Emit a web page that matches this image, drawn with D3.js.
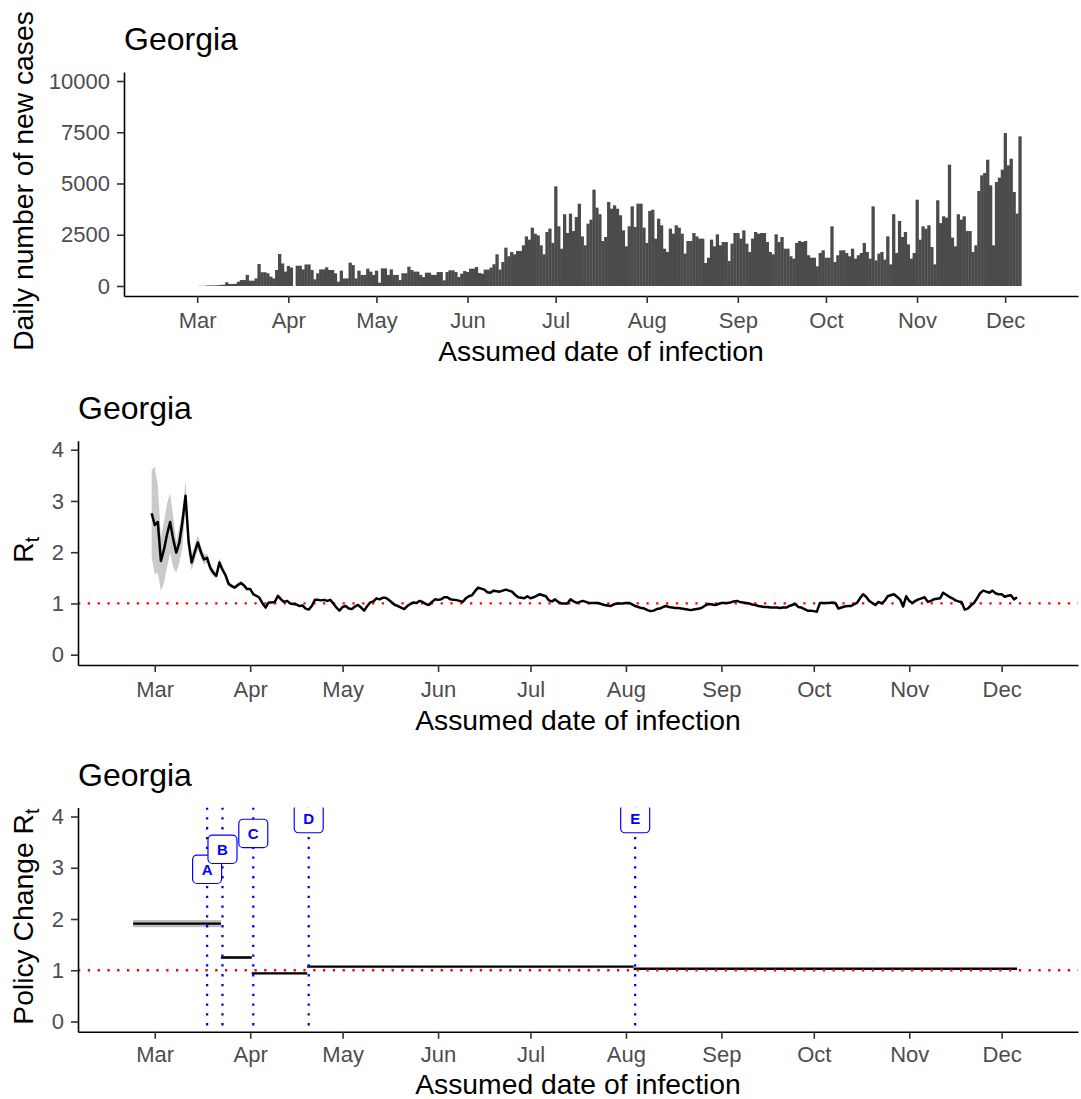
<!DOCTYPE html>
<html><head><meta charset="utf-8">
<script src="https://cdn.jsdelivr.net/npm/d3@7"></script>
<style>body{margin:0;background:#fff}svg{display:block}</style>
</head><body>
<svg id="c" width="1081" height="1099"></svg>
<script>
// ---------------- DATA ----------------
const stateName = "Georgia";
const monthTicks = ["2020-03-01","2020-04-01","2020-05-01","2020-06-01","2020-07-01","2020-08-01","2020-09-01","2020-10-01","2020-11-01","2020-12-01"];
const monthLabels = ["Mar","Apr","May","Jun","Jul","Aug","Sep","Oct","Nov","Dec"];
const caseTicks = [0, 2500, 5000, 7500, 10000];
const rtTicks = [0, 1, 2, 3, 4];

const casesStart = "2020-03-01";
const dailyCases = [
0,10,5,20,25,30,30,40,55,60,180,100,100,110,210,290,290,540,260,260,370,1070,670,670,620,455,370,780,1560,1100,
700,975,900,0,990,990,810,1050,1050,780,325,620,810,810,910,780,780,620,210,750,370,370,1140,1020,370,750,540,540,845,700,
540,750,160,860,860,540,810,540,540,290,620,620,940,780,700,700,540,430,650,650,540,540,
680,680,275,680,765,765,680,440,600,730,
680,845,845,925,635,600,800,800,895,1060,
1545,800,1170,1870,1450,1660,1545,1710,1710,1985,
2420,2260,2845,2550,2470,1985,1545,2630,2800,2100,
4860,2910,1820,3500,2585,3530,2680,3365,4015,2420,
1985,3040,3235,4700,3820,3500,2195,2390,4100,3770,
3935,3770,3450,2715,1935,2910,3885,2880,4015,4015,
2845,2100,3660,3720,2310,3285,2960,1820,1660,2800,
2550,2960,2845,2550,1580,2195,2195,2585,2420,2310,
2310,1120,1380,2260,1935,2520,1985,2145,2145,1220,
2065,2585,2585,2310,2715,2065,
1660,2310,2635,2550,2585,2585,2145,1660,1545,2520,
2145,2390,1820,1820,1450,1335,2100,2195,2145,2195,
1500,1380,1380,960,1610,1740,1380,1380,2910,1170,
1500,1740,1740,1610,1450,1820,1335,1500,1610,2100,
1660,1335,3885,1250,1580,1660,1285,2420,1055,3500,
1610,3170,2390,2635,2030,1335,1610,4210,2260,2910,
2795,2960,1900,1055,4180,3070,3400,3335,5920,2360,
1935,3500,3235,3400,2680,2680,1660,1985,4635,5400,
5510,6160,4910,1985,5070,5285,5675,7460,5885,6210,
4585,3530,7300
];

const rtStart = "2020-02-29";
const rtMedian = [
2.76,2.53,2.59,1.83,2.05,2.35,2.59,2.25,1.99,2.19,
2.60,3.10,2.20,1.80,2.00,2.19,2.00,1.86,1.89,1.70,
1.60,1.54,1.80,1.66,1.55,1.38,1.34,1.31,1.36,1.40,
1.35,1.28,1.28,1.18,1.15,1.11,1.00,0.92,1.02,1.02,
1.03,1.15,1.08,1.03,1.05,1.00,0.99,0.98,0.95,0.96,
0.90,0.88,0.95,1.07,1.07,1.06,1.07,1.05,1.07,1.00,
0.92,0.86,0.93,0.95,0.90,0.89,0.94,0.97,0.92,0.86,
0.95,1.02,1.04,1.10,1.08,1.11,1.11,1.07,1.02,0.97,
0.95,0.92,0.89,0.95,0.99,1.02,1.01,1.05,1.03,0.99,
0.97,1.03,1.08,1.07,1.08,1.12,1.12,1.08,1.07,1.065,
1.05,1.03,1.10,1.14,1.16,1.24,1.31,1.29,1.27,1.22,
1.21,1.25,1.24,1.23,1.25,1.27,1.25,1.23,1.17,1.12,
1.11,1.10,1.14,1.10,1.12,1.15,1.18,1.16,1.14,1.06,
1.04,1.08,1.03,1.00,1.00,1.00,1.08,1.04,1.01,1.03,
1.05,1.03,1.01,1.01,1.01,1.01,0.99,0.97,0.96,0.95,
0.98,1.00,1.00,1.00,1.01,1.01,0.98,0.95,0.93,0.91,
0.90,0.87,0.85,0.86,0.89,0.90,0.93,0.95,0.93,0.92,
0.91,0.91,0.90,0.89,0.88,0.87,0.88,0.89,0.90,0.93,
0.97,0.99,0.98,0.97,0.99,1.01,1.01,1.01,1.02,1.04,
1.05,1.03,1.02,1.01,1.00,0.98,0.97,0.95,0.94,0.93,
0.93,0.92,0.92,0.92,0.91,0.92,0.92,0.95,0.97,0.99,
0.93,0.92,0.89,0.86,0.86,0.85,0.84,1.01,1.01,1.01,
1.01,1.02,1.01,0.90,0.92,0.94,0.95,0.95,0.98,1.01,
1.10,1.18,1.13,1.05,1.01,0.97,1.03,1.00,1.05,1.14,
1.16,1.18,1.13,1.08,0.94,1.14,1.05,1.01,1.05,1.08,
1.10,1.12,1.03,1.05,1.08,1.09,1.10,1.21,1.17,1.13,
1.10,1.06,1.04,1.03,0.88,0.90,0.96,1.01,1.10,1.20,
1.25,1.23,1.21,1.25,1.20,1.18,1.18,1.13,1.15,1.16,
1.08,1.12
];
const rtLower = [1.90,1.57,1.60,1.25,1.40,1.70,1.99,1.70,1.60,1.80,2.10,2.87,1.95,1.65,1.85,2.05,1.88,1.76,1.80,1.62,1.53,1.47,1.72,1.60,1.50,1.33,1.30,1.27,1.32,1.36,1.31,1.24];
const rtUpper = [3.60,3.67,3.30,2.30,2.60,2.95,3.15,2.70,2.20,2.50,2.80,3.39,2.45,1.95,2.15,2.33,2.12,1.96,1.98,1.78,1.67,1.61,1.88,1.72,1.60,1.43,1.38,1.35,1.40,1.44,1.39,1.32];

const policySegStart = ["2020-02-23T00:00","2020-03-22T12:00","2020-04-01T12:00","2020-04-19T12:00","2020-08-03T12:00"];
const policySegEnd   = ["2020-03-22T12:00","2020-04-01T12:00","2020-04-19T12:00","2020-08-03T12:00","2020-12-06T00:00"];
const policyR  = [1.91, 1.25, 0.94, 1.07, 1.03];
const policyLo = [1.84, 1.23, 0.925, 1.06, 1.02];
const policyHi = [1.98, 1.27, 0.955, 1.08, 1.04];
const policyDates  = ["2020-03-18","2020-03-23","2020-04-02","2020-04-20","2020-08-04"];
const policyLabels = ["A","B","C","D","E"];
const policyLabelY = [2.97, 3.36, 3.67, 3.96, 3.96];

// ---------------- HELPERS ----------------
const FONT = '"Liberation Sans", Arial, Helvetica, sans-serif';
const parse = s => new Date((s.length > 10 ? s : s + "T00:00") + ":00Z");
const addDays = (d, n) => new Date(d.getTime() + n * 864e5);
const xDomain = [new Date(Date.UTC(2020, 1, 5, 2)), new Date(Date.UTC(2020, 11, 25, 19))];
const svg = d3.select("#c").style("font-family", FONT);

function xAxis(g, x, bottom, pad) {
  const ax = g.append("g").attr("transform", `translate(0,${bottom})`)
    .call(d3.axisBottom(x).tickValues(monthTicks.map(parse)).tickFormat((d, i) => monthLabels[i])
      .tickSize(7).tickSizeOuter(0).tickPadding(pad));
  styleAxis(ax);
}
function yAxis(g, y, left, ticks) {
  const ax = g.append("g").attr("transform", `translate(${left},0)`)
    .call(d3.axisLeft(y).tickValues(ticks).tickFormat(d3.format("d")).tickSize(7).tickSizeOuter(0).tickPadding(7));
  styleAxis(ax);
}
function styleAxis(ax) {
  ax.attr("font-family", FONT).attr("font-size", 22);
  ax.select(".domain").attr("stroke", "#000").attr("stroke-width", 1.6);
  ax.selectAll(".tick line").attr("stroke", "#333").attr("stroke-width", 1.6);
  ax.selectAll(".tick text").attr("fill", "#4D4D4D");
}
function titles(g, p, ytitleParts, xTitleY) {
  g.append("text").attr("x", p.left).attr("y", p.top - 22).attr("font-size", 32).attr("fill", "#000").text(stateName);
  g.append("text").attr("x", (p.left + p.right) / 2).attr("y", xTitleY)
    .attr("text-anchor", "middle").attr("font-size", 28.3).attr("fill", "#000").text("Assumed date of infection");
  const t = g.append("text").attr("transform", `translate(33,${(p.top + p.bottom) / 2 - 3}) rotate(-90)`)
    .attr("text-anchor", "middle").attr("font-size", 28.3).attr("fill", "#000");
  t.append("tspan").text(ytitleParts[0]);
  if (ytitleParts[1]) t.append("tspan").attr("dy", 6).attr("font-size", 19.5).text(ytitleParts[1]);
}

// ---------------- PANEL 1: cases ----------------
{
  const p = {left: 124, right: 1078, top: 72, bottom: 296};
  const x = d3.scaleUtc().domain(xDomain).range([p.left, p.right]);
  const y = d3.scaleLinear().domain([-488, 10439]).range([p.bottom, p.top]);
  const g = svg.append("g");
  const s0 = parse(casesStart);
  const bw = x(addDays(s0, 1)) - x(s0);
  g.append("g").selectAll("rect").data(dailyCases).join("rect")
    .attr("x", (d, i) => x(addDays(s0, i)) - bw / 2)
    .attr("width", bw + 0.35)
    .attr("y", d => y(d))
    .attr("height", d => Math.max(0, y(0) - y(d)))
    .attr("fill", "#4B4B4B");
  xAxis(g, x, p.bottom, 9);
  yAxis(g, y, p.left, caseTicks);
  titles(g, p, ["Daily number of new cases"], p.bottom + 65);
}

// ---------------- PANEL 2: Rt ----------------
{
  const p = {left: 78, right: 1078, top: 440.7, bottom: 665};
  const x = d3.scaleUtc().domain(xDomain).range([p.left, p.right]);
  const y = d3.scaleLinear().domain([-0.201, 4.176]).range([p.bottom, p.top]);
  const g = svg.append("g");
  const s0 = parse(rtStart);
  const band = rtLower.map((lo, i) => ({d: addDays(s0, i), lo, hi: rtUpper[i]}));
  g.append("path").datum(band).attr("fill", "#CACACA")
    .attr("d", d3.area().x(d => x(d.d)).y0(d => y(d.lo)).y1(d => y(d.hi)));
  g.append("line").attr("x1", p.left).attr("x2", p.right).attr("y1", y(1)).attr("y2", y(1))
    .attr("stroke", "#FF0000").attr("stroke-width", 2.3).attr("stroke-dasharray", "2.3 7.5");
  g.append("path").datum(rtMedian).attr("fill", "none").attr("stroke", "#000").attr("stroke-width", 2.5)
    .attr("stroke-linejoin", "round")
    .attr("d", d3.line().x((d, i) => x(addDays(s0, i))).y(d => y(d)));
  xAxis(g, x, p.bottom, 9);
  yAxis(g, y, p.left, rtTicks);
  titles(g, p, ["R", "t"], p.bottom + 65);
}

// ---------------- PANEL 3: policy change Rt ----------------
{
  const p = {left: 78, right: 1078, top: 807.5, bottom: 1031.8};
  const x = d3.scaleUtc().domain(xDomain).range([p.left, p.right]);
  const y = d3.scaleLinear().domain([-0.201, 4.176]).range([p.bottom, p.top]);
  const g = svg.append("g");
  svg.append("defs").append("clipPath").attr("id", "clip3").append("rect")
    .attr("x", p.left).attr("y", p.top).attr("width", p.right - p.left).attr("height", p.bottom - p.top);
  const segs = policyR.map((r, i) => ({s: parse(policySegStart[i]), e: parse(policySegEnd[i]), r, lo: policyLo[i], hi: policyHi[i]}));
  const pg = g.append("g").attr("clip-path", "url(#clip3)");
  pg.selectAll("rect.band").data(segs).join("rect").attr("class", "band")
    .attr("x", d => x(d.s)).attr("width", d => x(d.e) - x(d.s))
    .attr("y", d => y(d.hi)).attr("height", d => y(d.lo) - y(d.hi)).attr("fill", "#BEBEBE");
  pg.selectAll("line.seg").data(segs).join("line").attr("class", "seg")
    .attr("x1", d => x(d.s)).attr("x2", d => x(d.e)).attr("y1", d => y(d.r)).attr("y2", d => y(d.r))
    .attr("stroke", "#000").attr("stroke-width", 2.4);
  pg.append("line").attr("x1", p.left).attr("x2", p.right).attr("y1", y(1)).attr("y2", y(1))
    .attr("stroke", "#FF0000").attr("stroke-width", 2.3).attr("stroke-dasharray", "2.3 7.5");
  pg.selectAll("line.vl").data(policyDates).join("line").attr("class", "vl")
    .attr("x1", d => x(parse(d))).attr("x2", d => x(parse(d))).attr("y1", p.top).attr("y2", p.bottom)
    .attr("stroke", "#0000FF").attr("stroke-width", 2.3).attr("stroke-dasharray", "2.3 7.5");
  const lab = pg.selectAll("g.lab").data(policyDates).join("g").attr("class", "lab")
    .attr("transform", (d, i) => `translate(${x(parse(d))},${y(policyLabelY[i])})`);
  lab.append("rect").attr("x", -14.5).attr("y", -14.2).attr("width", 29).attr("height", 28.4)
    .attr("rx", 4.5).attr("fill", "#fff").attr("stroke", "#0000FF").attr("stroke-width", 1.2);
  lab.append("text").attr("text-anchor", "middle").attr("dy", "0.36em").attr("font-size", 15)
    .attr("font-weight", "bold").attr("fill", "#0000FF").text((d, i) => policyLabels[i]);
  xAxis(g, x, p.bottom, 8);
  yAxis(g, y, p.left, rtTicks);
  titles(g, p, ["Policy Change R", "t"], 1094);
}
</script>
</body></html>
